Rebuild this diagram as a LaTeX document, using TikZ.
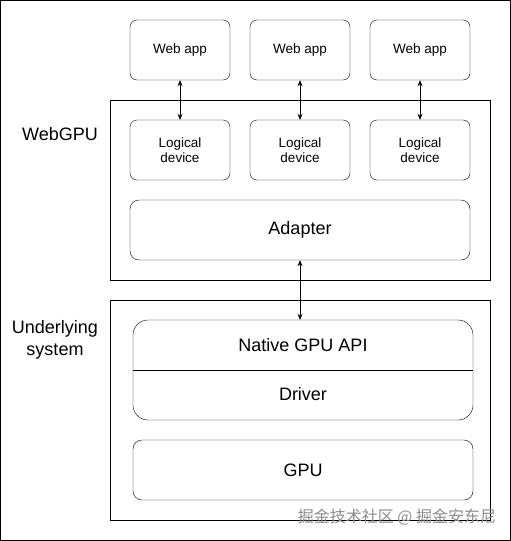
\documentclass[tikz,border=0pt]{standalone}
\usepackage{fontspec}
\setmainfont{Liberation Sans}
\newfontfamily\cjk{Noto Sans CJK SC}
\usetikzlibrary{arrows.meta}

\begin{document}
\begin{tikzpicture}[x=1pt, y=-1pt,
	box/.style={draw=black, rounded corners=7pt, minimum width=100pt, minimum height=60pt, align=center, font=\fontsize{13.5}{15.5}\selectfont},
	wide/.style={draw=black, rounded corners=9pt, minimum width=340pt, minimum height=60pt, font=\fontsize{18}{21}\selectfont},
	frame/.style={draw=black, minimum width=380pt, inner sep=0pt},
	link/.style={{Stealth[length=6pt,width=5pt]}-{Stealth[length=6pt,width=5pt]}, line width=0.8pt}]

\useasboundingbox (0,0) rectangle (511,541);
\draw (0.5,0.5) rectangle (510.5,540.5);

% Layers
\node[frame, minimum height=180pt] (webgpu) at (300,190) {};
\node[frame, minimum height=220pt] (system) at (300,410) {};
\node[font=\fontsize{18}{21}\selectfont] (webgpulabel) at (60,134) {WebGPU};
\node[font=\fontsize{18}{22}\selectfont, align=center] (systemlabel) at (55,340) {Underlying\\system};

% Web apps and logical devices
\foreach \i in {1,2,3} {
	\node[box] (app\i) at (60+120*\i,50) {Web app};
	\node[box] (dev\i) at (60+120*\i,150) {Logical\\device};
}

% Adapter
\node[wide] (adapter) at (300,230) {Adapter};

% Native API and driver
\node[wide, rounded corners=15pt, minimum height=100pt] (stack) at (303,370) {};
\draw (stack.west) -- (stack.east);
\node[font=\fontsize{18}{21}\selectfont] (api) at (303,345) {Native GPU API};
\node[font=\fontsize{18}{21}\selectfont] (driver) at (303,394) {Driver};

% GPU
\node[wide] (gpu) at (303,470) {GPU};

% Connections
\foreach \i in {1,2,3}
	\draw[link] (app\i) -- (dev\i);
\draw[link] (adapter.south -| 300,0) -- (stack.north -| 300,0);

% Watermark
\node[text=black!45, font=\cjk\fontsize{16}{18}\selectfont] (mark) at (397,517) {掘金技术社区 @ 掘金安东尼};
\end{tikzpicture}
\end{document}
